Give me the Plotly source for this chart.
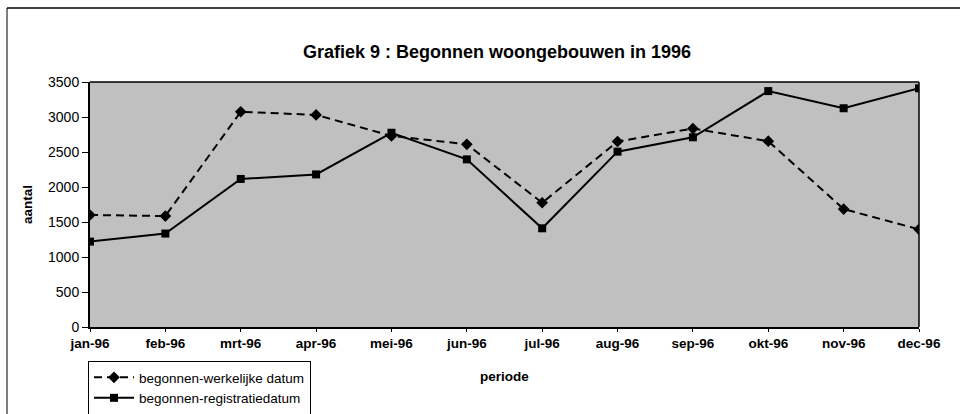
import plotly.graph_objects as go

maanden = ["jan-96", "feb-96", "mrt-96", "apr-96", "mei-96", "jun-96",
           "jul-96", "aug-96", "sep-96", "okt-96", "nov-96", "dec-96"]
werkelijke = [1600, 1585, 3075, 3030, 2730, 2610, 1775, 2650, 2835, 2655, 1685, 1395]
registratie = [1220, 1335, 2115, 2180, 2775, 2395, 1410, 2505, 2710, 3370, 3125, 3410]
yticks = [0, 500, 1000, 1500, 2000, 2500, 3000, 3500]

W, H = 960, 414
L, R, T, B = 90, 41, 82, 87
pw, ph = W - L - R, H - T - B

def px(x):
    return (x - L) / pw

def py(y):
    return (H - B - y) / ph

fnt = "Liberation Sans, Arial, sans-serif"

fig = go.Figure()
fig.add_trace(go.Scatter(
    x=maanden, y=werkelijke, name="begonnen-werkelijke datum",
    mode="lines+markers",
    line=dict(color="black", width=2, dash="8px,5px"),
    marker=dict(symbol="diamond", size=9, color="black"),
))
fig.add_trace(go.Scatter(
    x=maanden, y=registratie, name="begonnen-registratiedatum",
    mode="lines+markers",
    line=dict(color="black", width=2),
    marker=dict(symbol="square", size=8, color="black"),
))

fig.update_layout(
    width=W, height=H,
    margin=dict(l=L, r=R, t=T, b=B, autoexpand=False),
    paper_bgcolor="white",
    plot_bgcolor="#c0c0c0",
    font=dict(family=fnt, size=14, color="black"),
    title=dict(text="<b>Grafiek 9 : Begonnen woongebouwen in 1996</b>",
               x=px(497), xanchor="center", xref="paper",
               y=1 - 52 / H, yanchor="middle",
               font=dict(size=18, family=fnt)),
    showlegend=True,
    legend=dict(x=px(88), y=py(361), xanchor="left", yanchor="top",
                bordercolor="black", borderwidth=1, bgcolor="white",
                font=dict(size=13.5, family=fnt), itemwidth=40,
                tracegroupgap=0),
    xaxis=dict(type="category", range=[0, 11], showgrid=False,
               showline=True, linecolor="black", linewidth=2,
               ticks="outside", ticklen=3, tickcolor="black",
               tickfont=dict(size=13.5, family=fnt),
               title=dict(text="<b>periode</b>", standoff=21,
                          font=dict(size=13.5, family=fnt)),
               mirror=False, zeroline=False, tickprefix="<b>", ticksuffix="</b>"),
    yaxis=dict(range=[0, 3500], tickvals=yticks, showgrid=False,
               showline=True, linecolor="black", linewidth=2,
               ticks="outside", ticklen=6, tickcolor="black",
               tickfont=dict(size=14, family=fnt),
               tickprefix="<b>", ticksuffix="</b>",
               title=dict(text="<b>aantal</b>", standoff=12,
                          font=dict(size=13.5, family=fnt)),
               zeroline=False),
    shapes=[
        dict(type="line", xref="paper", yref="paper",
             x0=px(7), x1=px(960), y0=py(8), y1=py(8),
             line=dict(color="black", width=1.5)),
        dict(type="line", xref="paper", yref="paper",
             x0=px(7), x1=px(7), y0=py(8), y1=py(414),
             line=dict(color="black", width=1)),
        dict(type="line", xref="paper", yref="paper",
             x0=1, x1=1, y0=0, y1=1,
             line=dict(color="black", width=1.5)),
        dict(type="line", xref="paper", yref="paper",
             x0=0, x1=1, y0=1, y1=1,
             line=dict(color="black", width=1.5)),
    ],
)

fig.write_html("out.html", config={"displayModeBar": False},
               post_script="document.body.style.margin='0';")
